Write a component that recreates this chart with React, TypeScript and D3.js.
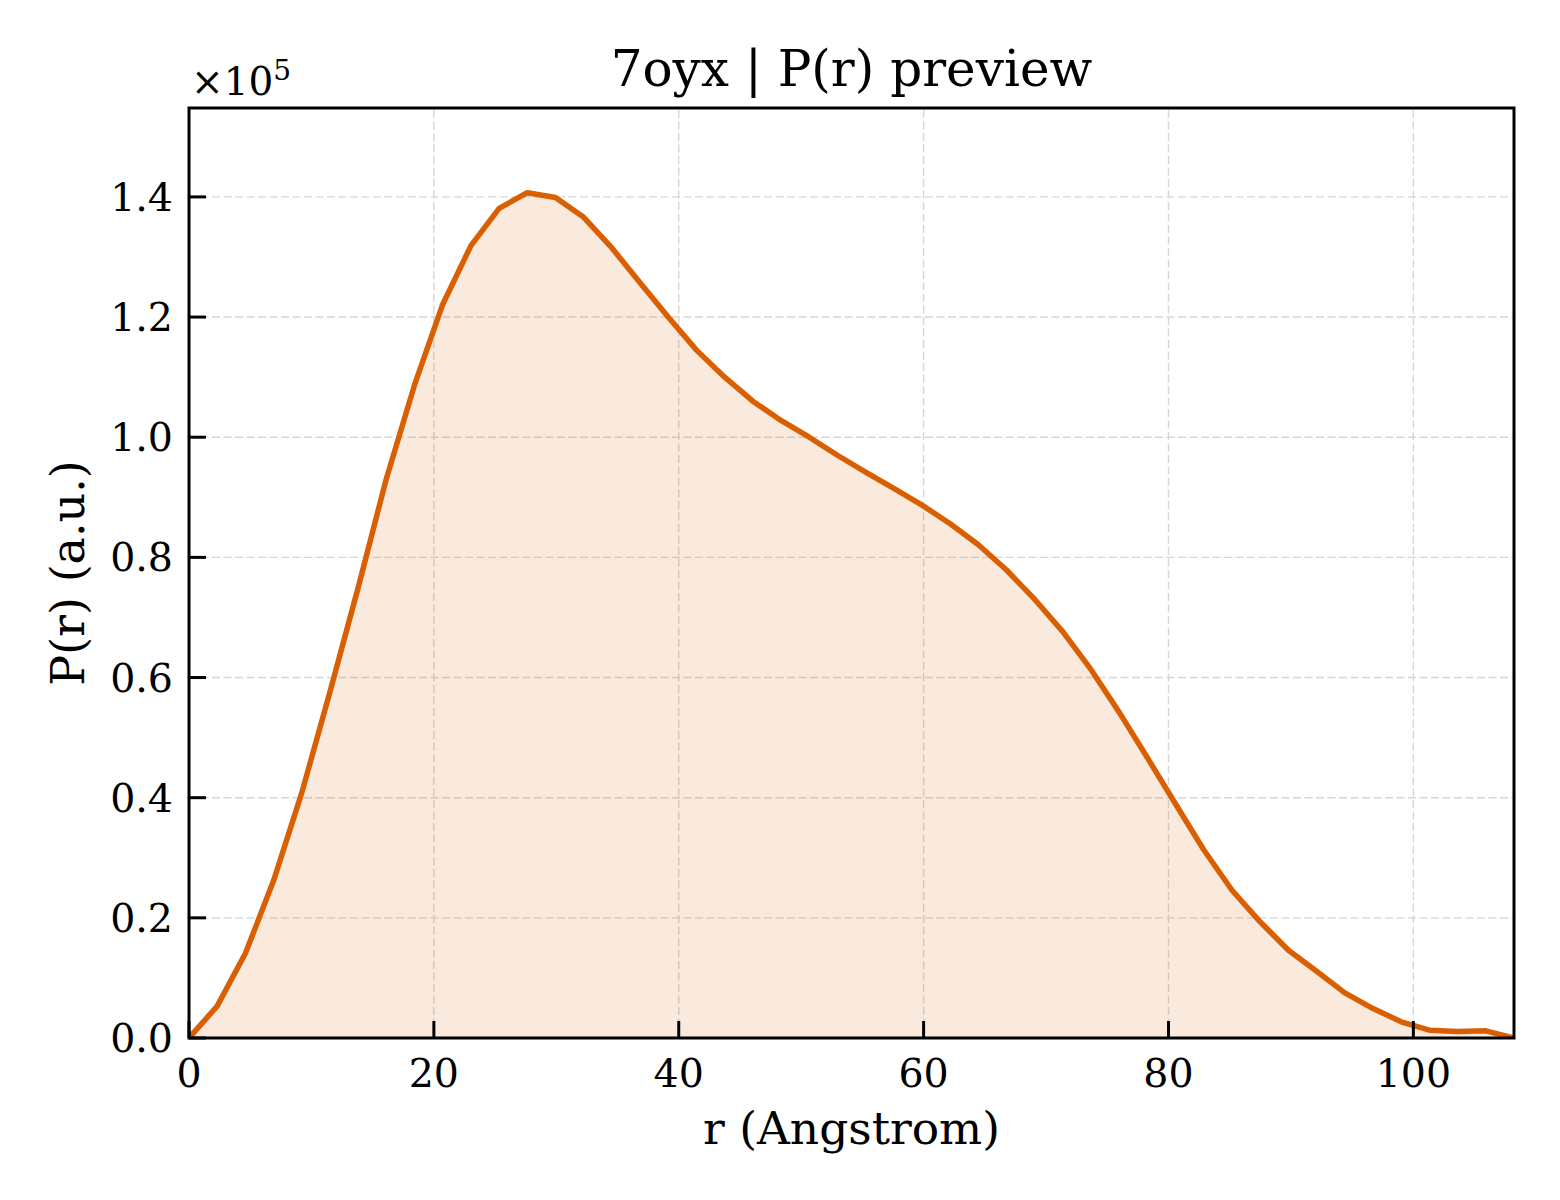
import * as d3 from 'd3';

// P(r) for 7oyx, values in units of 1e5
const rValues = [
  0, 2.3, 4.61, 6.91, 9.21, 11.51, 13.82, 16.12, 18.42, 20.72, 23.03, 25.33,
  27.63, 29.93, 32.24, 34.54, 36.84, 39.14, 41.45, 43.75, 46.05, 48.35, 50.66,
  52.96, 55.26, 57.56, 59.87, 62.17, 64.47, 66.77, 69.08, 71.38, 73.68, 75.98,
  78.29, 80.59, 82.89, 85.19, 87.5, 89.8, 92.1, 94.4, 96.71, 99.01, 101.31,
  103.61, 105.92, 108.22,
];
const prValues = [
  0.0, 0.053, 0.141, 0.262, 0.408, 0.576, 0.75, 0.931, 1.087, 1.221, 1.319,
  1.381, 1.407, 1.399, 1.366, 1.315, 1.257, 1.2, 1.145, 1.1, 1.06, 1.028, 1.0,
  0.97, 0.942, 0.915, 0.887, 0.856, 0.821, 0.779, 0.73, 0.676, 0.613, 0.542,
  0.466, 0.389, 0.313, 0.246, 0.193, 0.146, 0.111, 0.075, 0.049, 0.027, 0.013,
  0.011, 0.012, 0.0,
];
const xTicks = [0, 20, 40, 60, 80, 100];
const yTicks = [0, 0.2, 0.4, 0.6, 0.8, 1.0, 1.2, 1.4];

const W = 1560;
const H = 1200;
const margin = { top: 108, right: 46, bottom: 162, left: 189 };
const FONT = '"DejaVu Serif", serif';
const LINE = '#d95f02';

export default function App() {
  const pts = rValues.map((r, i) => ({ r, p: prValues[i] }));
  const x = d3
    .scaleLinear()
    .domain([0, d3.max(rValues) as number])
    .range([margin.left, W - margin.right]);
  const y = d3
    .scaleLinear()
    .domain([0, 1.548])
    .range([H - margin.bottom, margin.top]);

  const line = d3
    .line<{ r: number; p: number }>()
    .x((d) => x(d.r))
    .y((d) => y(d.p));
  const area = d3
    .area<{ r: number; p: number }>()
    .x((d) => x(d.r))
    .y0(y(0))
    .y1((d) => y(d.p));

  const [x0, x1] = x.range();
  const [y0, y1] = y.range();
  const tickLen = 17;

  return (
    <svg
      width={W}
      height={H}
      style={{ position: 'absolute', left: 0, top: 0, background: '#fff' }}
      fontFamily={FONT}
    >
      <defs>
        <clipPath id="plot-clip">
          <rect x={x0} y={y1} width={x1 - x0} height={y0 - y1} />
        </clipPath>
      </defs>

      {/* grid */}
      <g stroke="#d6d6d6" strokeWidth={1.4} strokeDasharray="8,3.5">
        {xTicks.map((t) => (
          <line key={'gx' + t} x1={x(t)} x2={x(t)} y1={y0} y2={y1} />
        ))}
        {yTicks.map((t) => (
          <line key={'gy' + t} x1={x0} x2={x1} y1={y(t)} y2={y(t)} />
        ))}
      </g>

      <g clipPath="url(#plot-clip)">
        <path d={area(pts) || ''} fill={LINE} fillOpacity={0.13} />
        <path
          d={line(pts) || ''}
          fill="none"
          stroke={LINE}
          strokeWidth={5.5}
          strokeLinejoin="round"
        />
      </g>

      {/* ticks (inward) */}
      <g stroke="#000" strokeWidth={3}>
        {xTicks.map((t) => (
          <line key={'tx' + t} x1={x(t)} x2={x(t)} y1={y0} y2={y0 - tickLen} />
        ))}
        {yTicks.map((t) => (
          <line key={'ty' + t} x1={x0} x2={x0 + tickLen} y1={y(t)} y2={y(t)} />
        ))}
      </g>

      {/* frame */}
      <rect
        x={x0}
        y={y1}
        width={x1 - x0}
        height={y0 - y1}
        fill="none"
        stroke="#000"
        strokeWidth={3}
      />

      {/* tick labels */}
      <g fontSize={39.5} fill="#000">
        {xTicks.map((t) => (
          <text key={'lx' + t} x={x(t)} y={y0 + 49} textAnchor="middle">
            {t}
          </text>
        ))}
        {yTicks.map((t) => (
          <text
            key={'ly' + t}
            x={x0 - 16}
            y={y(t) + 14}
            textAnchor="end"
          >
            {t.toFixed(1)}
          </text>
        ))}
      </g>

      {/* offset text */}
      <text x={191} y={95} fontSize={39}>
        ×10
        <tspan fontSize={28} dy={-15}>
          5
        </tspan>
      </text>

      {/* axis labels */}
      <text
        x={(x0 + x1) / 2}
        y={1144}
        fontSize={45.5}
        textAnchor="middle"
      >
        r (Angstrom)
      </text>
      <text
        transform={`translate(84,${(y0 + y1) / 2}) rotate(-90)`}
        fontSize={46}
        textAnchor="middle"
      >
        P(r) (a.u.)
      </text>

      {/* title */}
      <text x={(x0 + x1) / 2} y={86} fontSize={50} textAnchor="middle">
        7oyx | P(r) preview
      </text>
    </svg>
  );
}
